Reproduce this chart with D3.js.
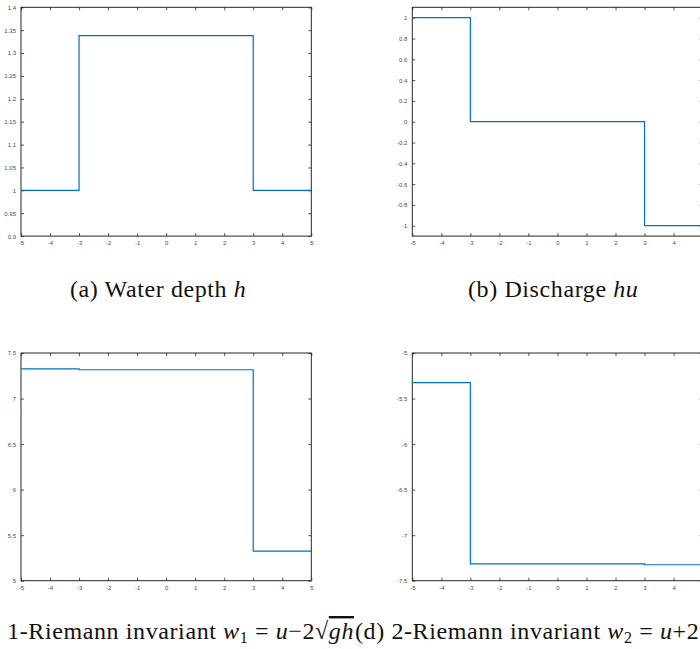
<!DOCTYPE html>
<html>
<head>
<meta charset="utf-8">
<script src="https://cdn.jsdelivr.net/npm/d3@7"></script>
<style>
  html, body { margin: 0; padding: 0; background: #fff; }
  svg { display: block; }
  .tick-label { font-family: 'Liberation Sans', Arial, sans-serif; font-size: 6px; fill: #4a4a4a; }
</style>
</head>
<body>
<svg id="chart" width="700" height="649"></svg>
<script>
// step edges shared by every panel
const xEdges = [-5, -3, 3, 5]
const xTicks = [-5, -4, -3, -2, -1, 0, 1, 2, 3, 4, 5]

// value on each of the three segments
const depthH = [1, 1.338, 1]
const dischargeHU = [1, 0, -1]
const riemannW1 = [7.325, 7.316, 5.325]
const riemannW2 = [-5.325, -7.316, -7.325]

const yTicksA = [0.9, 0.95, 1, 1.05, 1.1, 1.15, 1.2, 1.25, 1.3, 1.35, 1.4]
const yTicksB = [-1, -0.8, -0.6, -0.4, -0.2, 0, 0.2, 0.4, 0.6, 0.8, 1]
const yTicksC = [5, 5.5, 6, 6.5, 7, 7.5]
const yTicksD = [-7.5, -7, -6.5, -6, -5.5, -5]

const serif = '"Liberation Serif", "DejaVu Serif", "Noto Serif", Tinos, "Times New Roman", Times, serif'

const svg = d3.select('#chart')

const panels = [
  { values: depthH, domain: [0.9, 1.4], ticks: yTicksA, left: 21, top: 7.3, w: 290.3, h: 228.8 },
  { values: dischargeHU, domain: [-1.1, 1.1], ticks: yTicksB, left: 412.3, top: 7.3, w: 290.3, h: 228.8 },
  { values: riemannW1, domain: [5, 7.5], ticks: yTicksC, left: 21, top: 353, w: 290.3, h: 227.7 },
  { values: riemannW2, domain: [-7.5, -5], ticks: yTicksD, left: 412.3, top: 353, w: 290.3, h: 227.7 }
]

panels.forEach(p => drawPanel(p))

function drawPanel(p) {
  const g = svg.append('g').attr('transform', 'translate(' + p.left + ',' + p.top + ')')
  const x = d3.scaleLinear().domain([-5, 5]).range([0, p.w])
  const y = d3.scaleLinear().domain(p.domain).range([p.h, 0])
  const tl = 3

  // MATLAB style box: ticks point inward on all four sides
  const axB = d3.axisBottom(x).tickValues(xTicks).tickSizeInner(-tl).tickSizeOuter(0).tickPadding(5).tickFormat(d => String(d))
  const axT = d3.axisTop(x).tickValues(xTicks).tickSizeInner(-tl).tickSizeOuter(0).tickFormat('')
  const axL = d3.axisLeft(y).tickValues(p.ticks).tickSizeInner(-tl).tickSizeOuter(0).tickPadding(5).tickFormat(d => String(d))
  const axR = d3.axisRight(y).tickValues(p.ticks).tickSizeInner(-tl).tickSizeOuter(0).tickFormat('')

  const axes = [
    g.append('g').attr('transform', 'translate(0,' + p.h + ')').call(axB),
    g.append('g').call(axT),
    g.append('g').call(axL),
    g.append('g').attr('transform', 'translate(' + p.w + ',0)').call(axR)
  ]
  axes.forEach(a => {
    a.select('.domain').remove()
    a.selectAll('.tick line').attr('stroke', '#262626').attr('stroke-width', 0.8)
    a.selectAll('.tick text').attr('class', 'tick-label').attr('fill', null)
    a.attr('font-family', null).attr('font-size', null)
  })

  g.append('rect')
      .attr('x', 0).attr('y', 0)
      .attr('width', p.w).attr('height', p.h)
      .attr('fill', 'none')
      .attr('stroke', '#262626')
      .attr('stroke-width', 1)

  const pts = xEdges.map((xe, i) => [xe, p.values[Math.min(i, p.values.length - 1)]])
  const line = d3.line()
      .x(d => x(d[0]))
      .y(d => y(d[1]))
      .curve(d3.curveStepAfter)

  g.append('path')
      .datum(pts)
      .attr('d', line)
      .attr('fill', 'none')
      .attr('stroke', '#0072BD')
      .attr('stroke-width', 1.2)
}

// captions
function caption(parts, xPos, yPos, anchor) {
  const t = svg.append('text')
      .attr('x', xPos).attr('y', yPos)
      .attr('text-anchor', anchor)
      .style('font-family', serif)
      .style('font-size', '24px')
      .style('letter-spacing', '0.6px')
      .style('fill', '#111')
  parts.forEach(pt => {
    const s = t.append('tspan').text(pt.t)
    if (pt.i) s.style('font-style', 'italic')
    if (pt.dy) s.attr('dy', pt.dy)
    if (pt.fs) s.style('font-size', pt.fs)
    if (pt.o) s.style('text-decoration', 'overline')
  })
  return t
}

caption([{ t: '(a) Water depth ' }, { t: 'h', i: true }], 70, 297, 'start')
caption([{ t: '(b) Discharge ' }, { t: 'hu', i: true }], 468, 297, 'start')

caption([
  { t: '(c) 1-Riemann invariant ' }, { t: 'w', i: true },
  { t: '1', dy: 4, fs: '16px' }, { t: ' = ', dy: -4 }, { t: 'u', i: true },
  { t: '\u22122\u221A' }, { t: 'gh', i: true, o: true }
], 354, 639, 'end')

caption([
  { t: '(d) 2-Riemann invariant ' }, { t: 'w', i: true },
  { t: '2', dy: 4, fs: '16px' }, { t: ' = ', dy: -4 }, { t: 'u', i: true },
  { t: '+2\u221A' }, { t: 'gh', i: true, o: true }
], 355, 639, 'start')
</script>
</body>
</html>
